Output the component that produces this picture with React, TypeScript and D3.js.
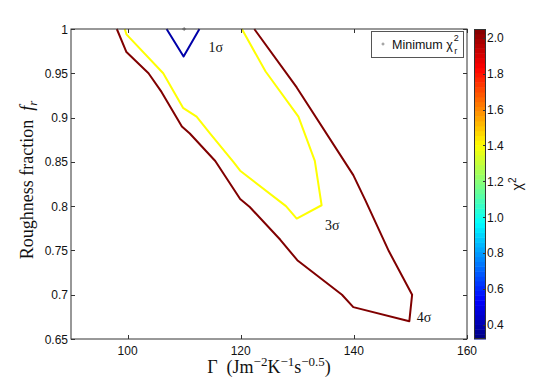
import { useRef, useEffect } from 'react';
import * as d3 from 'd3';

// contour polylines: [Gamma, f_r]
const sigma1: [number, number][] = [[106.9, 1], [109.9, 0.969], [112.7, 1]];
const sigma3: [number, number][] = [
  [99.5, 1], [99.8, 0.994], [106.3, 0.95], [109.8, 0.911], [112.2, 0.901], [114.6, 0.882],
  [118.7, 0.85], [119.9, 0.84], [128.0, 0.80], [129.9, 0.786], [134.3, 0.801], [133.1, 0.851],
  [130.2, 0.901], [124.4, 0.952], [120.2, 1],
];
const sigma4: [number, number][] = [
  [98.1, 1], [99.8, 0.974], [103.7, 0.95], [106.0, 0.929], [109.6, 0.89], [111.0, 0.882],
  [115.5, 0.851], [119.9, 0.808], [121.6, 0.799], [127.0, 0.762], [130.0, 0.739], [137.9, 0.70],
  [139.9, 0.686], [149.8, 0.670], [150.3, 0.70], [146.2, 0.749], [142.0, 0.807], [139.9, 0.835],
  [129.9, 0.934], [122.4, 1],
];
const contourLevels = [0.39, 1.40, 2.05];
const contourLines = [sigma1, sigma3, sigma4];
const sigmaLabels = ['1σ', '3σ', '4σ'];
const sigmaLabelAt: [number, number][] = [[114.3, 0.974], [134.9, 0.773], [151.1, 0.669]];
const minPoint: [number, number] = [110, 1];

const xTicks = [100, 120, 140, 160];
const yTicks = [0.65, 0.7, 0.75, 0.8, 0.85, 0.9, 0.95, 1];
const cbTicks = [0.4, 0.6, 0.8, 1.0, 1.2, 1.4, 1.6, 1.8, 2.0];
const cbDomain: [number, number] = [0.32, 2.05];

function jet(t: number): string {
  const c = (v: number) => Math.max(0, Math.min(1, v));
  const r = c(Math.min(4 * t - 1.5, -4 * t + 4.5));
  const g = c(Math.min(4 * t - 0.5, -4 * t + 3.5));
  const b = c(Math.min(4 * t + 0.5, -4 * t + 2.5));
  return d3.rgb(r * 255, g * 255, b * 255).formatHex();
}

export default function App() {
  const ref = useRef<SVGSVGElement | null>(null);

  useEffect(() => {
    const svg = d3.select(ref.current);
    svg.selectAll('*').remove();

    const W = 547, H = 382;
    const m = { left: 71, right: 467, top: 29, bottom: 339 };
    const ax = '#333';
    const sans = 'Liberation Sans, Arial, sans-serif';
    const serif = 'Liberation Serif, Times New Roman, serif';

    svg.append('rect').attr('width', W).attr('height', H).attr('fill', '#fff');

    const x = d3.scaleLinear().domain([90, 160]).range([m.left, m.right]);
    const y = d3.scaleLinear().domain([0.65, 1]).range([m.bottom, m.top]);
    const cz = d3.scaleLinear().domain(cbDomain).range([0, 1]);

    const g = svg.append('g');

    // contours
    const line = d3.line<[number, number]>().x(d => x(d[0])).y(d => y(d[1]));
    contourLines.forEach((pts, i) => {
      g.append('path').attr('d', line(pts)!)
        .attr('fill', 'none')
        .attr('stroke', jet(cz(contourLevels[i])))
        .attr('stroke-width', 2)
        .attr('stroke-linejoin', 'round');
    });

    // minimum marker
    const plus = (px: number, py: number, s: number) =>
      `M${px - s},${py}H${px + s}M${px},${py - s}V${py + s}`;
    g.append('path').attr('d', plus(x(minPoint[0]), y(minPoint[1]), 2))
      .attr('stroke', '#888').attr('stroke-width', 1);

    // sigma labels
    sigmaLabels.forEach((t, i) => {
      g.append('text')
        .attr('x', x(sigmaLabelAt[i][0])).attr('y', y(sigmaLabelAt[i][1]))
        .attr('font-family', serif).attr('font-size', 14).attr('fill', '#111')
        .text(t);
    });

    // axes box + ticks
    g.append('rect').attr('x', m.left).attr('y', m.top)
      .attr('width', m.right - m.left).attr('height', m.bottom - m.top)
      .attr('fill', 'none').attr('stroke', ax).attr('stroke-width', 1);
    const tl = 4;
    xTicks.forEach(t => {
      const px = Math.round(x(t)) + 0.5;
      g.append('line').attr('x1', px).attr('x2', px).attr('y1', m.bottom).attr('y2', m.bottom - tl).attr('stroke', ax);
      g.append('line').attr('x1', px).attr('x2', px).attr('y1', m.top).attr('y2', m.top + tl).attr('stroke', ax);
      g.append('text').attr('x', x(t)).attr('y', m.bottom + 16)
        .attr('text-anchor', 'middle').attr('font-family', sans).attr('font-size', 12).attr('fill', '#111')
        .text(t);
    });
    yTicks.forEach(t => {
      const py = Math.round(y(t)) + 0.5;
      g.append('line').attr('x1', m.left).attr('x2', m.left + tl).attr('y1', py).attr('y2', py).attr('stroke', ax);
      g.append('line').attr('x1', m.right).attr('x2', m.right - tl).attr('y1', py).attr('y2', py).attr('stroke', ax);
      g.append('text').attr('x', m.left - 3).attr('y', y(t) + 4.5)
        .attr('text-anchor', 'end').attr('font-family', sans).attr('font-size', 12).attr('fill', '#111')
        .text(d3.format('~g')(t));
    });

    // axis labels
    const xl = g.append('text').attr('x', (m.left + m.right) / 2).attr('y', 373)
      .attr('text-anchor', 'middle').attr('font-family', serif).attr('font-size', 18).attr('fill', '#111');
    xl.append('tspan').text('Γ\u00a0\u00a0(Jm');
    xl.append('tspan').attr('dy', -7).attr('font-size', 13).text('−2');
    xl.append('tspan').attr('dy', 7).text('K');
    xl.append('tspan').attr('dy', -7).attr('font-size', 13).text('−1');
    xl.append('tspan').attr('dy', 7).text('s');
    xl.append('tspan').attr('dy', -7).attr('font-size', 13).text('−0.5');
    xl.append('tspan').attr('dy', 7).text(')');

    const yl = g.append('text')
      .attr('transform', `translate(33,${(m.top + m.bottom) / 2 - 4}) rotate(-90)`)
      .attr('text-anchor', 'middle').attr('font-family', serif).attr('font-size', 18).attr('fill', '#111');
    yl.append('tspan').text('Roughness fraction\u00a0\u00a0');
    yl.append('tspan').attr('font-style', 'italic').text('f');
    yl.append('tspan').attr('dy', 4).attr('font-size', 13).attr('font-style', 'italic').text('r');

    // legend
    const lg = g.append('g');
    lg.append('rect').attr('x', 371.5).attr('y', 31.5).attr('width', 92).attr('height', 26)
      .attr('fill', '#fff').attr('stroke', '#555').attr('stroke-width', 1);
    lg.append('path').attr('d', plus(383, 44, 1.5)).attr('stroke', '#888').attr('stroke-width', 1);
    const lt = lg.append('text').attr('x', 392).attr('y', 48.5)
      .attr('font-family', sans).attr('font-size', 12.5).attr('fill', '#111')
      .text('Minimum χ');
    const lw = (lt.node() as SVGTextElement).getComputedTextLength();
    lg.append('text').attr('x', 392 + lw + 1).attr('y', 41)
      .attr('font-family', sans).attr('font-size', 9).attr('fill', '#111').text('2');
    lg.append('text').attr('x', 392 + lw + 1.5).attr('y', 54)
      .attr('font-family', sans).attr('font-size', 9).attr('fill', '#111').text('r');

    // colorbar
    const cb = { x0: 474, x1: 486, top: m.top, bottom: m.bottom };
    const cy = d3.scaleLinear().domain(cbDomain).range([cb.bottom, cb.top]);
    const n = 64;
    const step = (cbDomain[1] - cbDomain[0]) / n;
    d3.range(n).forEach(i => {
      const v0 = cbDomain[0] + i * step;
      g.append('rect').attr('x', cb.x0).attr('width', cb.x1 - cb.x0)
        .attr('y', cy(v0 + step)).attr('height', cy(v0) - cy(v0 + step) + 0.5)
        .attr('fill', jet((i + 0.5) / n));
    });
    g.append('rect').attr('x', cb.x0 + 0.5).attr('y', cb.top + 0.5)
      .attr('width', cb.x1 - cb.x0 - 1).attr('height', cb.bottom - cb.top - 1)
      .attr('fill', 'none').attr('stroke', '#333').attr('stroke-width', 1);
    cbTicks.forEach(t => {
      const py = Math.round(cy(t)) + 0.5;
      g.append('line').attr('x1', cb.x1).attr('x2', cb.x1 - 3).attr('y1', py).attr('y2', py).attr('stroke', '#333');
      g.append('text').attr('x', cb.x1 + 1).attr('y', cy(t) + 4.5)
        .attr('font-family', sans).attr('font-size', 12).attr('fill', '#111')
        .text(d3.format('.1f')(t));
    });
    const cl = g.append('text')
      .attr('transform', `translate(522,${(cb.top + cb.bottom) / 2}) rotate(-90)`)
      .attr('text-anchor', 'middle').attr('font-family', sans).attr('font-size', 14).attr('fill', '#111');
    cl.append('tspan').text('χ');
    cl.append('tspan').attr('dy', -6).attr('font-size', 10).text('2');
  }, []);

  return (
    <svg ref={ref} width={547} height={382}
      style={{ position: 'absolute', left: 0, top: 0, display: 'block' }} />
  );
}
